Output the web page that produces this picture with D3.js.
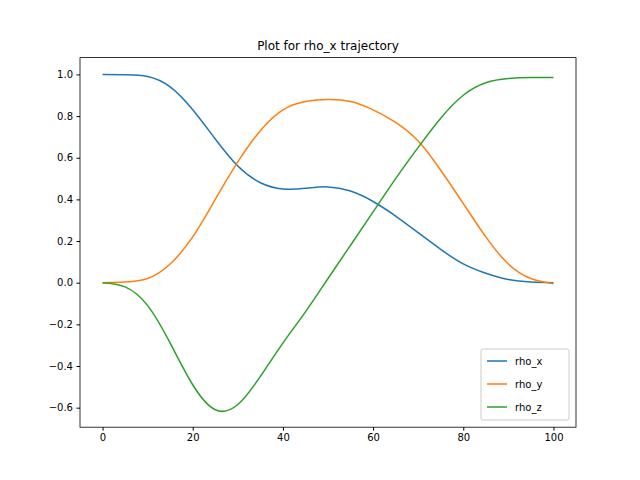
<!DOCTYPE html>
<html><head><meta charset="utf-8">
<script src="https://cdn.jsdelivr.net/npm/d3@7"></script>
<style>body{margin:0;background:#fff}text{font-family:"DejaVu Sans",sans-serif}</style>
</head><body><svg width="640" height="480"></svg>
<script>
const xs   = [0,5,10,15,20,25,30,35,40,45,50,55,60,65,70,75,80,85,90,95,100];
const rhoX = [1.0,0.998,0.99,0.94,0.83,0.69,0.56,0.48,0.45,0.453,0.46,0.44,0.39,0.32,0.24,0.16,0.09,0.045,0.015,0.003,0.0];
const rhoY = [0,0.003,0.02,0.09,0.22,0.40,0.58,0.73,0.83,0.87,0.88,0.87,0.83,0.77,0.68,0.54,0.38,0.22,0.09,0.02,-0.005];
const rhoZ = [0,-0.02,-0.11,-0.29,-0.49,-0.61,-0.585,-0.45,-0.29,-0.14,0.02,0.18,0.34,0.50,0.65,0.79,0.90,0.96,0.98,0.985,0.985];
const series = [["rho_x",rhoX,"#1f77b4"],["rho_y",rhoY,"#ff7f0e"],["rho_z",rhoZ,"#2ca02c"]];

const L=80,R=576,T=57.6,B=427.2;
const svg=d3.select("svg");
const x=d3.scaleLinear().domain([-5,105]).range([L,R]);
const y=d3.scaleLinear().domain([-0.6938,1.0808]).range([B,T]);
const line=d3.line().x((d,i)=>x(xs[i])).y(d=>y(d)).curve(d3.curveNatural);
series.forEach(([n,v,c])=>svg.append("path").attr("d",line(v)).attr("fill","none").attr("stroke",c).attr("stroke-width",1.5));

const ax=svg.append("g").attr("transform",`translate(0,${B})`).call(d3.axisBottom(x).tickValues([0,20,40,60,80,100]).tickSize(3.5).tickPadding(3.5));
const ay=svg.append("g").attr("transform",`translate(${L},0)`).call(d3.axisLeft(y).tickValues([-0.6,-0.4,-0.2,0,0.2,0.4,0.6,0.8,1.0]).tickFormat(d3.format(".1f")).tickSize(3.5).tickPadding(3.5));
[ax,ay].forEach(a=>{a.select(".domain").remove();a.selectAll("text").attr("font-size",10).attr("fill","#000").style("font-family","DejaVu Sans");});
svg.append("rect").attr("x",L).attr("y",T).attr("width",R-L).attr("height",B-T).attr("fill","none").attr("stroke","#000").attr("stroke-width",0.8);
svg.append("text").attr("x",(L+R)/2).attr("y",T-8).attr("text-anchor","middle").attr("font-size",12).text("Plot for rho_x trajectory");

const lg=svg.append("g").attr("transform","translate(481,349)");
lg.append("rect").attr("width",88).attr("height",71).attr("rx",2).attr("fill","#fff").attr("fill-opacity",0.8).attr("stroke","#ccc");
series.forEach(([n,v,c],i)=>{
  const yy=12+i*23;
  lg.append("line").attr("x1",6).attr("x2",26).attr("y1",yy).attr("y2",yy).attr("stroke",c).attr("stroke-width",1.5);
  lg.append("text").attr("x",34).attr("y",yy+3.5).attr("font-size",10).text(n);
});
</script></body></html>
